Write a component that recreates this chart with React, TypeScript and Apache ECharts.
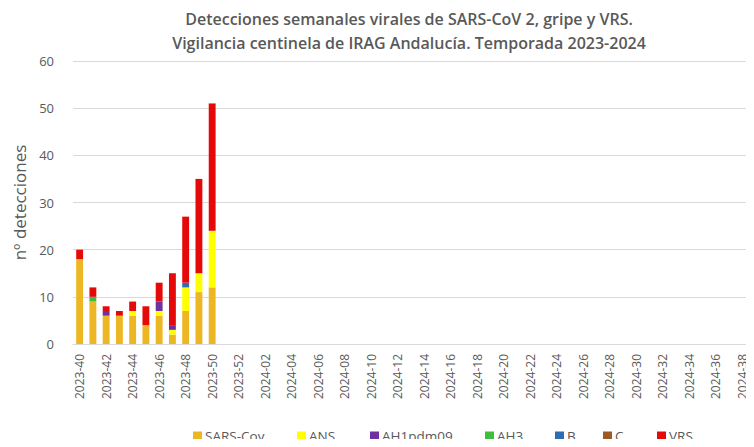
import React, { useEffect, useRef } from "react";
import * as echarts from "echarts";

const weeks: string[] = [
  "2023-40", "2023-41", "2023-42", "2023-43", "2023-44", "2023-45", "2023-46", "2023-47", "2023-48", "2023-49",
  "2023-50", "2023-51", "2023-52", "2024-01", "2024-02", "2024-03", "2024-04", "2024-05", "2024-06", "2024-07",
  "2024-08", "2024-09", "2024-10", "2024-11", "2024-12", "2024-13", "2024-14", "2024-15", "2024-16", "2024-17",
  "2024-18", "2024-19", "2024-20", "2024-21", "2024-22", "2024-23", "2024-24", "2024-25", "2024-26", "2024-27",
  "2024-28", "2024-29", "2024-30", "2024-31", "2024-32", "2024-33", "2024-34", "2024-35", "2024-36", "2024-37",
  "2024-38",
];

const sarsCov = [18, 9, 6, 6, 6, 4, 6, 2, 7, 11, 12];
const ans = [0, 0, 0, 0, 1, 0, 1, 1, 5, 4, 12];
const ah1pdm09 = [0, 0, 1, 0, 0, 0, 2, 1, 0, 0, 0];
const ah3 = [0, 1, 0, 0, 0, 0, 0, 0, 0, 0, 0];
const fluB = [0, 0, 0, 0, 0, 0, 0, 0, 1, 0, 0];
const fluC = [0, 0, 0, 0, 0, 0, 0, 0, 0, 0, 0];
const vrs = [2, 2, 1, 1, 2, 4, 4, 11, 14, 20, 27];

const yTicks = [0, 10, 20, 30, 40, 50, 60];

const seriesDefs = [
  { name: "SARS-Cov", data: sarsCov, color: "#EDB623" },
  { name: "ANS", data: ans, color: "#FFFF00" },
  { name: "AH1pdm09", data: ah1pdm09, color: "#7030A0" },
  { name: "AH3", data: ah3, color: "#3DBE3D" },
  { name: "B", data: fluB, color: "#2F6EAE" },
  { name: "C", data: fluC, color: "#9E5A25" },
  { name: "VRS", data: vrs, color: "#E50A0A" },
];

const legendLefts = [193, 297, 370, 485, 555, 603, 657];

const FONT = "'Open Sans', sans-serif";

export default function App() {
  const ref = useRef<HTMLDivElement>(null);
  useEffect(() => {
    if (!ref.current) return;
    const chart = echarts.init(ref.current, null, { renderer: "svg" });
    const pad = (arr: number[]) => weeks.map((_, i) => (i < arr.length ? arr[i] : null));
    chart.setOption({
      animation: false,
      backgroundColor: "#ffffff",
      title: {
        text: "Detecciones semanales virales de SARS-CoV 2, gripe y VRS.\nVigilancia centinela de IRAG Andalucía. Temporada 2023-2024",
        left: 404,
        top: 2,
        textAlign: "center",
        textStyle: {
          fontFamily: FONT,
          fontSize: 16,
          fontWeight: 600,
          color: "#595959",
          lineHeight: 24,
        },
      },
      legend: seriesDefs.map((s, i) => ({
        top: 429,
        left: legendLefts[i],
        padding: 0,
        itemWidth: 9,
        itemHeight: 9,
        itemGap: 0,
        icon: "rect",
        textStyle: { fontFamily: FONT, fontSize: 13.5, color: "#595959", padding: [0, 0, 0, -2] },
        data: [s.name],
      })),
      grid: { left: 73, right: 5, top: 61, bottom: 103, containLabel: false },
      xAxis: {
        type: "category",
        data: weeks,
        axisTick: { show: false },
        axisLine: { lineStyle: { color: "#D9D9D9" } },
        axisLabel: {
          interval: 1,
          rotate: 90,
          fontFamily: FONT,
          fontSize: 12,
          color: "#595959",
          margin: 10,
        },
      },
      yAxis: {
        type: "value",
        min: yTicks[0],
        max: yTicks[yTicks.length - 1],
        interval: 10,
        name: "nº detecciones",
        nameLocation: "middle",
        nameGap: 44,
        nameTextStyle: { fontFamily: FONT, fontSize: 17, color: "#595959" },
        axisLine: { show: false },
        axisTick: { show: false },
        axisLabel: { fontFamily: FONT, fontSize: 13, color: "#595959", margin: 19 },
        splitLine: { lineStyle: { color: "#D9D9D9" } },
      },
      series: seriesDefs.map((s) => ({
        name: s.name,
        type: "bar",
        stack: "total",
        barWidth: "52%",
        data: pad(s.data),
        itemStyle: { color: s.color },
      })),
    });
    return () => chart.dispose();
  }, []);
  return <div ref={ref} style={{ width: 754, height: 447, margin: -8 }} />;
}
